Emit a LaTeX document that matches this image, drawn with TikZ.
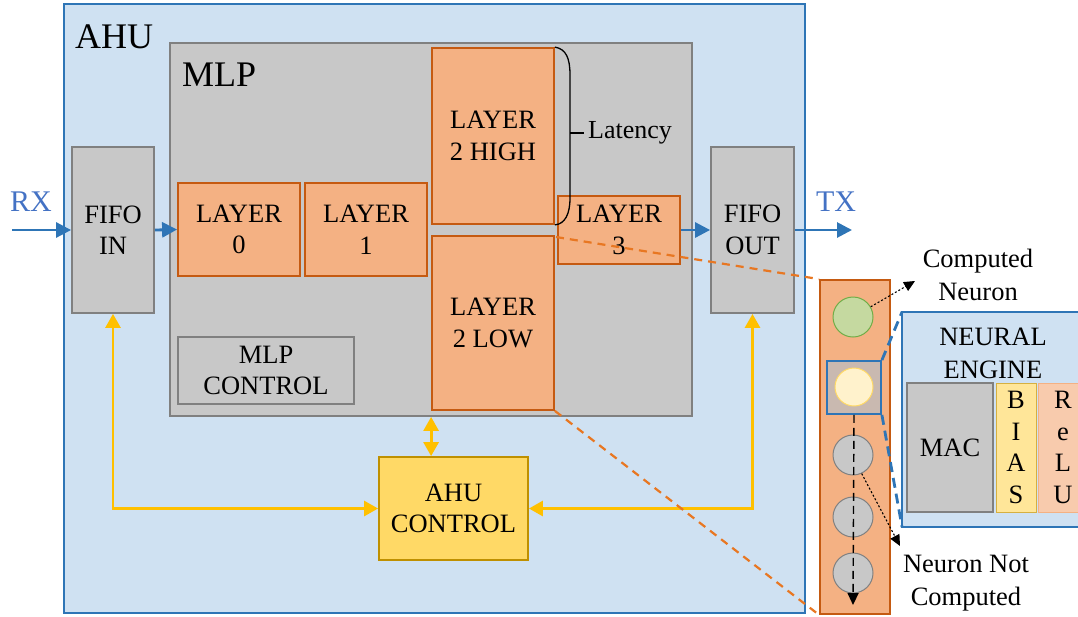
\documentclass[tikz,border=0pt]{standalone}
\usepackage{fontspec}
\setmainfont{Liberation Serif}
\usetikzlibrary{arrows.meta,calc}
\definecolor{ahufill}{HTML}{CFE1F2}
\definecolor{ahuline}{HTML}{2E75B6}
\definecolor{grayfill}{HTML}{C8C8C8}
\definecolor{grayline}{HTML}{808080}
\definecolor{orfill}{HTML}{F4B183}
\definecolor{orline}{HTML}{C55A11}
\definecolor{yefill}{HTML}{FFD966}
\definecolor{yeline}{HTML}{BF9000}
\definecolor{yearrow}{HTML}{FFC000}
\definecolor{txtblue}{HTML}{4472C4}
\definecolor{greenfill}{HTML}{C5D9A0}
\definecolor{greenline}{HTML}{70AD47}
\definecolor{lightyel}{HTML}{FFF2CC}
\definecolor{lightyelline}{HTML}{FFD966}
\definecolor{sqfill}{HTML}{C9B9B0}
\definecolor{biasfill}{HTML}{FFE699}
\definecolor{biasline}{HTML}{D6B040}
\definecolor{relufill}{HTML}{F8CBAD}
\definecolor{reluline}{HTML}{F4B183}
\definecolor{dashor}{HTML}{E87722}
\tikzset{
  box/.style={draw, line width=1.8pt, inner sep=0pt, align=center, font=\rmfamily\fontsize{26.5}{31.5}\selectfont},
  graybox/.style={box, fill=grayfill, draw=grayline},
  orbox/.style={box, fill=orfill, draw=orline},
  blarr/.style={draw=ahuline, line width=2.8pt, -{Triangle[length=15pt,width=15pt]}},
  yarr/.style={draw=yearrow, line width=2.8pt, {Triangle[length=14pt,width=15pt]}-{Triangle[length=14pt,width=15pt]}},
  orldash/.style={draw=dashor, line width=2.2pt, dash pattern=on 8pt off 6pt},
  bldash/.style={draw=ahuline, line width=2.8pt, dash pattern=on 10pt off 6pt},
  neuron/.style={circle, draw, line width=1pt, inner sep=0pt, minimum size=40pt},
  lbl/.style={align=center, font=\rmfamily\fontsize{26.5}{33}\selectfont},
  biglbl/.style={anchor=west, inner sep=0pt, font=\rmfamily\fontsize{36}{40}\selectfont},
}
\begin{document}
\begin{tikzpicture}[x=1pt,y=-1pt]
\useasboundingbox (0,0) rectangle (1078,616);
% AHU outer
\node[box, fill=ahufill, draw=ahuline, minimum width=741pt, minimum height=609pt] (ahu) at (434.5,308.5) {};
\node[biglbl] (ahulbl) at (75,37) {AHU};
% MLP
\node[graybox, minimum width=522pt, minimum height=373pt] (mlp) at (431,229.5) {};
\node[biglbl] (mlplbl) at (182,75) {MLP};
% FIFOs
\node[graybox, minimum width=82pt, minimum height=166pt] (fifoin) at (113,230) {FIFO\\IN};
\node[graybox, minimum width=83pt, minimum height=166pt] (fifoout) at (752.5,230) {FIFO\\OUT};
% Layers
\node[orbox, minimum width=122pt, minimum height=93pt] (l0) at (239,229.5) {LAYER\\0};
\node[orbox, minimum width=122pt, minimum height=93pt] (l1) at (366,229.5) {LAYER\\1};
\node[orbox, minimum width=122pt, minimum height=176pt] (l2h) at (493,136) {LAYER\\2 HIGH};
\node[orbox, minimum width=122pt, minimum height=174pt] (l2l) at (493,323) {LAYER\\2 LOW};
\node[orbox, minimum width=122pt, minimum height=68pt] (l3) at (619,230) {LAYER\\3};
% Controls
\node[graybox, minimum width=176pt, minimum height=67pt] (mlpc) at (266,370.5) {MLP\\CONTROL};
\node[box, fill=yefill, draw=yeline, minimum width=149pt, minimum height=103pt] (ahuc) at (453.5,508.5) {AHU\\CONTROL};
% Latency brace
\coordinate (lt) at (l2h.north east);
\coordinate (lb) at (l2h.south east);
\draw[line width=1.3pt] (lt) .. controls (566,49) and (570,58) .. (570,75) -- (570,198) .. controls (570,214) and (565,224) .. (lb);
\coordinate (ltick) at (570,133);
\coordinate (ltick2) at (584,133);
\draw[line width=1.3pt] (ltick) -- (ltick2);
\node[anchor=west, font=\rmfamily\fontsize{26}{30}\selectfont, inner sep=4pt] (lat) at (ltick2) {Latency};
% Blue arrows
\coordinate (rxs) at (12,230);
\coordinate (txe) at (852,230);
\draw[blarr] (rxs) -- (fifoin.west);
\draw[blarr] (fifoin.east) -- (l0.west);
\draw[blarr] (l3.east) -- (fifoout.west);
\draw[blarr] (fifoout.east) -- (txe);
\node[text=txtblue, font=\rmfamily\fontsize{30}{36}\selectfont] (rx) at (31,202) {RX};
\node[text=txtblue, font=\rmfamily\fontsize{30}{36}\selectfont] (tx) at (836,202) {TX};
% Yellow arrows
\draw[yarr] (fifoin.south) |- (ahuc.west);
\draw[yarr] (fifoout.south) |- (ahuc.east);
\draw[yarr] (l2l.west |- mlp.south) -- (l2l.west |- ahuc.north);
% Right column
\node[box, fill=orfill, draw=orline, minimum width=70pt, minimum height=334pt] (col) at (855,447) {};
\coordinate (o1) at (556,237);
\draw[orldash] (o1) -- (col.north west);
\draw[orldash] (l2l.south east) -- (col.south west);
\node[neuron, fill=greenfill, draw=greenline] (gc) at (853,317) {};
\node[box, fill=sqfill, draw=ahuline, minimum width=54pt, minimum height=53pt] (sq) at (854,387.5) {};
\node[neuron, fill=lightyel, draw=lightyelline, minimum size=38pt] (yc) at (854,387) {};
\node[neuron, fill=grayfill, draw=grayline] (c1) at (853,455) {};
\node[neuron, fill=grayfill, draw=grayline] (c2) at (853,517) {};
\node[neuron, fill=grayfill, draw=grayline] (c3) at (853,573) {};
\coordinate (dend) at (853,605);
\draw[line width=1.4pt, dash pattern=on 8pt off 5pt, -{Triangle[length=12pt,width=11pt]}] (sq.south) -- (dend);
% Neural engine
\coordinate (neTL) at (902,312);
\coordinate (neBR) at (1090,527);
\draw[line width=2pt, fill=ahufill, draw=ahuline] (neTL) rectangle (neBR);
\coordinate (neBL) at (902,527);
\node[lbl] (nelbl) at (993,353) {NEURAL\\ENGINE};
\node[graybox, minimum width=86pt, minimum height=129pt] (mac) at (950,447.5) {MAC};
\node[box, fill=biasfill, draw=biasline, line width=1pt, minimum width=40pt, minimum height=129pt] (bias) at (1016,447.5) {B\\I\\A\\S};
\node[box, fill=relufill, draw=reluline, line width=1pt, minimum width=50pt, minimum height=129pt, text width=40pt] (relu) at (1063,447.5) {R\\e\\L\\U};
\draw[bldash] (sq.north east) -- (neTL);
\draw[bldash] (sq.south east) -- (neBL);
% Dotted annotations
\coordinate (cn) at (915,281);
\coordinate (nn) at (900,546);
\draw[line width=1.1pt, dash pattern=on 2pt off 2pt, -{Triangle[length=11pt,width=10pt]}] (gc.30) -- (cn);
\draw[line width=1.1pt, dash pattern=on 2pt off 2pt, -{Triangle[length=11pt,width=10pt]}] (c1.-65) -- (nn);
\node[lbl] (cnl) at (978,275) {Computed\\Neuron};
\node[lbl] (nnl) at (966,583) {Neuron Not\\Computed};
\end{tikzpicture}
\end{document}
